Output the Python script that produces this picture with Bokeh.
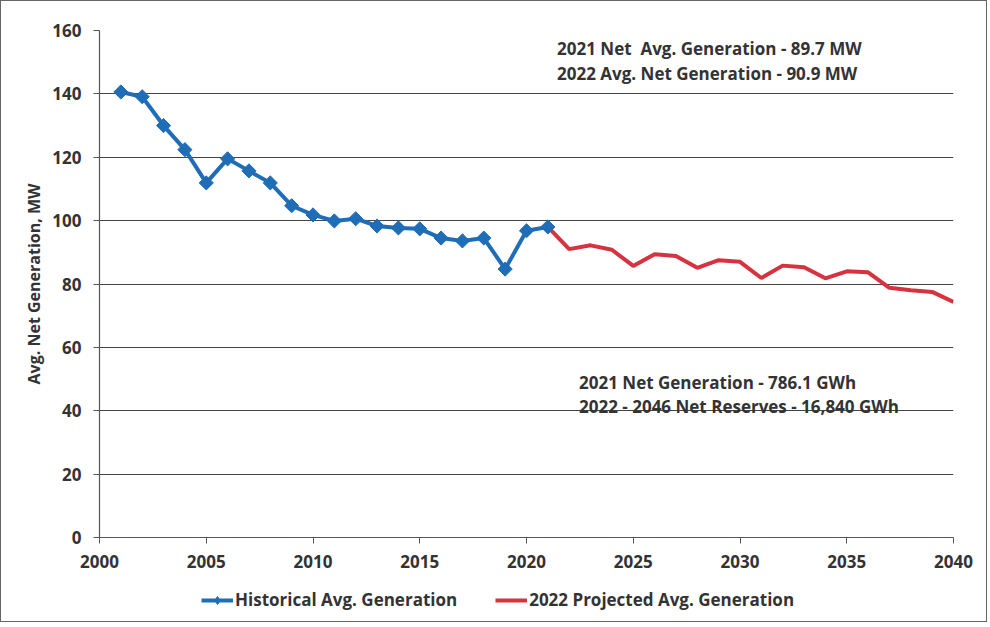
import math
from bokeh.plotting import figure
from bokeh.layouts import column
from bokeh.models import Range1d, Label, Legend, LegendItem, FixedTicker, ColumnDataSource
from bokeh.embed import file_html
from bokeh.resources import INLINE

hist_years = list(range(2001, 2022))
hist_values = [140.6, 139.1, 130.0, 122.4, 111.9, 119.5, 115.7, 111.9, 104.7, 101.8,
               99.9, 100.6, 98.3, 97.7, 97.4, 94.5, 93.6, 94.5, 84.7, 96.8, 98.0]
proj_years = list(range(2021, 2041))
proj_values = [98.0, 91.0, 92.2, 90.8, 85.7, 89.4, 88.8, 85.1, 87.5, 87.0,
               81.9, 85.8, 85.3, 81.8, 84.0, 83.7, 78.8, 78.0, 77.5, 74.3]
x_ticks = [2000, 2005, 2010, 2015, 2020, 2025, 2030, 2035, 2040]
y_ticks = [0, 20, 40, 60, 80, 100, 120, 140, 160]
notes_top = ["2021 Net\u00a0 Avg. Generation - 89.7 MW", "2022 Avg. Net Generation - 90.9 MW"]
notes_bottom = ["2021 Net Generation - 786.1 GWh", "2022 - 2046 Net Reserves - 16,840 GWh"]
series_names = ["Historical Avg. Generation", "2022 Projected Avg. Generation"]

FONT = "Open Sans"
TXT = "#333333"
BLUE = "#1f6db6"
RED = "#d7323f"

p = figure(width=985, height=576, output_backend="svg", toolbar_location=None,
           x_range=Range1d(2000, 2040), y_range=Range1d(0, 160),
           min_border_left=98, min_border_right=33, min_border_top=29, min_border_bottom=40)
p.outline_line_color = None
p.background_fill_color = "white"
p.border_fill_color = "white"

p.xgrid.grid_line_color = None
p.ygrid.grid_line_color = "#444444"
p.ygrid.grid_line_width = 1.2
p.ygrid.ticker = FixedTicker(ticks=y_ticks)

for ax in (p.xaxis[0], p.yaxis[0]):
    ax.axis_line_color = "#555555"
    ax.axis_line_width = 1.2
    ax.major_tick_line_color = "#555555"
    ax.major_tick_in = 0
    ax.major_tick_out = 6
    ax.minor_tick_line_color = None
    ax.major_label_text_font = FONT
    ax.major_label_text_font_style = "bold"
    ax.major_label_text_font_size = "17px"
    ax.major_label_text_color = TXT
p.xaxis.ticker = FixedTicker(ticks=x_ticks)
p.yaxis.ticker = FixedTicker(ticks=y_ticks)
p.xaxis.major_label_standoff = 11
p.yaxis.major_label_standoff = 12
p.yaxis.axis_label = "Avg. Net Generation, MW"
p.yaxis.axis_label_text_font = FONT
p.yaxis.axis_label_text_font_style = "bold"
p.yaxis.axis_label_text_font_size = "16px"
p.yaxis.axis_label_text_color = TXT
p.yaxis.axis_label_standoff = 4

hist = ColumnDataSource(dict(x=hist_years, y=hist_values))
proj = ColumnDataSource(dict(x=proj_years, y=proj_values))

p.line("x", "y", source=proj, line_color=RED, line_width=4)
p.line("x", "y", source=hist, line_color=BLUE, line_width=4)
p.scatter("x", "y", source=hist, marker="square", angle=math.pi / 4, size=10,
          fill_color=BLUE, line_color=BLUE)

for i, t in enumerate(notes_top):
    p.add_layout(Label(x=2021.43, y=154.3 - i * 7.9, text=t, text_font=FONT,
                       text_font_style="bold", text_font_size="17px", text_color=TXT,
                       text_baseline="middle"))
for i, t in enumerate(notes_bottom):
    p.add_layout(Label(x=2022.46, y=49.0 - i * 7.6, text=t, text_font=FONT,
                       text_font_style="bold", text_font_size="17px", text_color=TXT,
                       text_baseline="middle"))

# legend strip below the chart (legend renderers hold an off-screen placeholder point)
q = figure(width=985, height=44, output_backend="svg", toolbar_location=None,
           x_range=Range1d(0, 1), y_range=Range1d(0, 1),
           min_border_left=0, min_border_right=0, min_border_top=0, min_border_bottom=0)
q.axis.visible = False
q.grid.visible = False
q.outline_line_color = None
q.border_fill_color = "white"
placeholder = ColumnDataSource(dict(x=[-10], y=[-10]))
l1 = q.line("x", "y", source=placeholder, line_color=BLUE, line_width=4)
s1 = q.scatter("x", "y", source=placeholder, marker="diamond", size=12,
               fill_color=BLUE, line_color=BLUE)
l2 = q.line("x", "y", source=placeholder, line_color=RED, line_width=4)
legend = Legend(items=[LegendItem(label=series_names[0], renderers=[l1, s1]),
                       LegendItem(label=series_names[1], renderers=[l2])],
                orientation="horizontal", location=(102, 10), border_line_color=None,
                background_fill_alpha=0,
                label_text_font=FONT, label_text_font_style="bold",
                label_text_font_size="17px", label_text_color=TXT,
                glyph_width=32, spacing=38, margin=0, padding=4, label_standoff=2)
q.add_layout(legend, "center")

layout = column(p, q, spacing=0)
layout.styles = {"border": "1.5px solid #666"}

open("out.html", "w").write(file_html(layout, INLINE))
